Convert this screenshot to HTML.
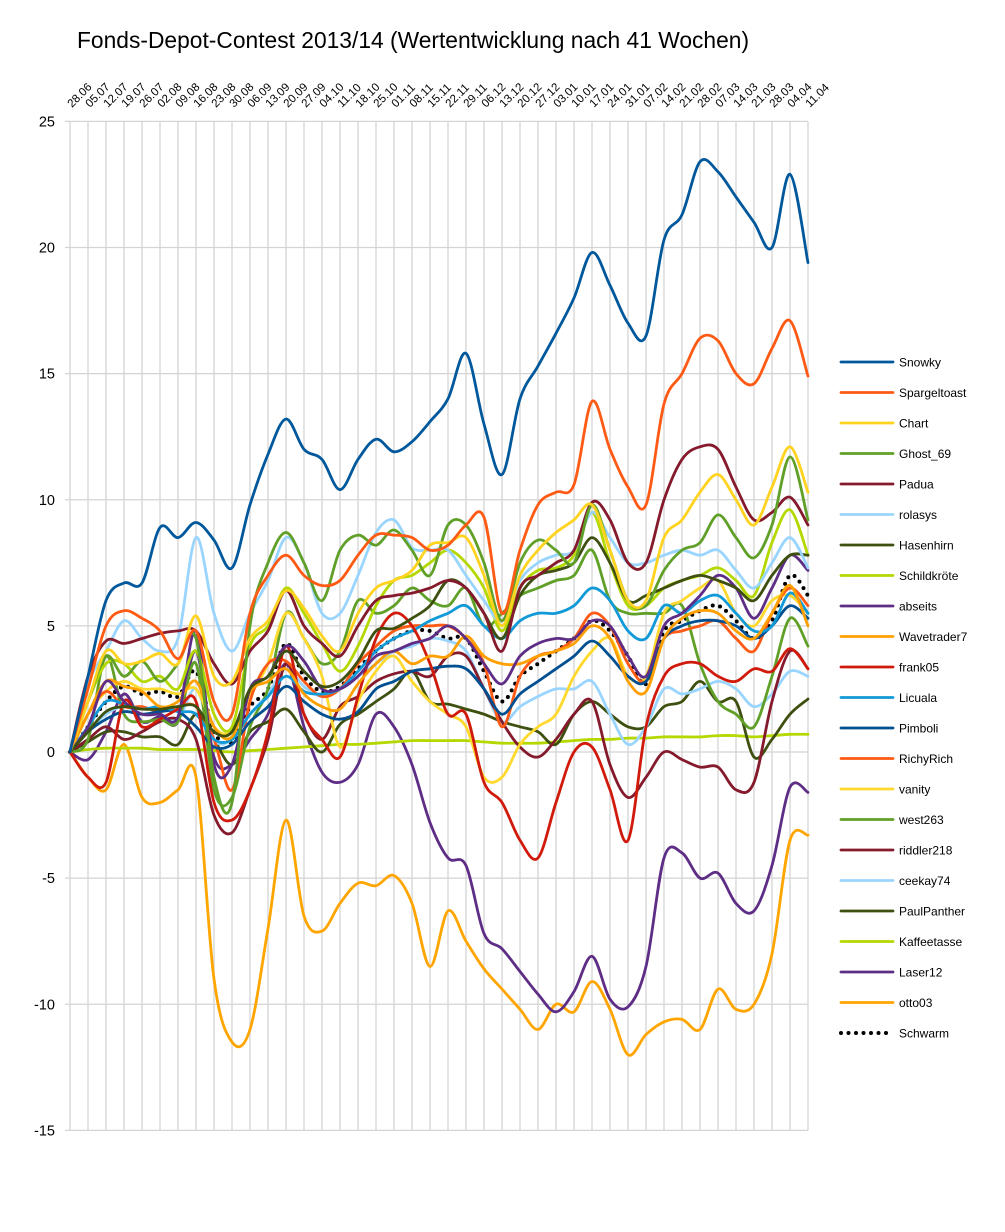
<!DOCTYPE html>
<html><head><meta charset="utf-8"><style>
body{margin:0;background:#fff;}
svg{display:block;font-family:"Liberation Sans",sans-serif;}
</style></head><body>
<svg id="chart" width="1005" height="1232" xmlns="http://www.w3.org/2000/svg">
<rect width="1005" height="1232" fill="#fff"/>
<text x="77" y="48" font-size="22.8" fill="#000">Fonds-Depot-Contest 2013/14 (Wertentwicklung nach 41 Wochen)</text>
<g id="grid"></g><g id="series"></g><g id="legend"></g>
</svg>
<script>
const categories=["28.06","05.07","12.07","19.07","26.07","02.08","09.08","16.08","23.08","30.08","06.09","13.09","20.09","27.09","04.10","11.10","18.10","25.10","01.11","08.11","15.11","22.11","29.11","06.12","13.12","20.12","27.12","03.01","10.01","17.01","24.01","31.01","07.02","14.02","21.02","28.02","07.03","14.03","21.03","28.03","04.04","11.04"];
const yTicks=[25,20,15,10,5,0,-5,-10,-15];
const seriesNames=["Snowky","Spargeltoast","Chart","Ghost_69","Padua","rolasys","Hasenhirn","Schildkröte","abseits","Wavetrader7","frank05","Licuala","Pimboli","RichyRich","vanity","west263","riddler218","ceekay74","PaulPanther","Kaffeetasse","Laser12","otto03","Schwarm"];
const seriesColors=["#00589c","#ff5a14","#ffd320","#60a028","#841a2c","#99d5ff","#3e5010","#b4d800","#5e2d86","#ffa000","#d01a0b","#1199d8","#004f90","#ff5a14","#ffd92e","#60a028","#841a2c","#99d5ff","#3e5010","#b4d800","#5e2d86","#ffa500","#000"];
const snowky=[0,3,6,6.7,6.7,8.9,8.5,9.1,8.4,7.3,9.8,11.8,13.2,12,11.6,10.4,11.6,12.4,11.9,12.3,13.1,14,15.8,13,11,14,15.3,16.6,18,19.8,18.5,17,16.5,20.3,21.3,23.4,23,22,21,20,22.9,19.4];
const spargeltoast=[0,2.5,5,5.6,5.3,4.8,3.7,4.8,2,1.5,5.5,7,7.8,7,6.6,6.8,7.8,8.6,8.6,8.5,8,8.2,9,9.3,5.5,8,9.8,10.3,10.6,13.9,12,10.5,9.8,13.8,15,16.4,16.3,15,14.6,16,17.1,14.9];
const chartS=[0,2,4,3.5,3.6,3.9,3.5,5.4,3,2.8,4.5,5.2,6.4,5.7,4.6,4,5.5,6.5,6.8,7.2,8.2,8.3,8.5,7,5,7,8,8.7,9.2,9.8,8,6,6,8.5,9.2,10.3,11,10,9,10.5,12.1,10.3];
const ghost69=[0,2,3.8,3,3.6,2.8,3.5,4.5,-1,-2,5,7.5,8.7,7.5,6,8,8.6,8.2,8.8,8,7,9,9,7.5,5.2,7.5,8.4,8,7.5,9.8,8,6,5.8,7.2,8,8.3,9.4,8.5,7.7,9,11.7,9.2];
const padua=[0,3,4.4,4.3,4.5,4.7,4.8,4.8,3.5,2.7,4,4.8,6.4,5,4.3,3.8,5,6,6.2,6.3,6.5,6.8,6.5,5.5,4,6.5,7,7.5,8,9.9,9.2,7.5,7.5,10,11.6,12.1,12,10.5,9.2,9.5,10.1,9];
const rolasys=[0,2.7,4,5.2,4.5,4,4.5,8.5,5.5,4,5.5,6.8,8.5,7.5,5.5,5.5,7,8.7,9.2,8.1,8,8,7,6,5.2,6.8,7.5,7.8,8,9.5,8.5,7.5,7.5,7.8,8,7.8,8,7.2,6.5,7.5,8.5,7.3];
const hasenhirn=[0,0.8,1.6,1.8,1.7,1.7,1.8,1.8,0.8,0.8,2.5,3,4,3.2,2.6,2.8,3.6,4.8,4.9,5.3,5.8,6.8,6.5,5.5,4.5,6.2,7,7.2,7.5,8.5,7.5,6,6.2,6.5,6.8,7,6.8,6.5,6,7,7.8,7.8];
const schildkroete=[0,2,3.5,3.5,2.8,3,2.5,4,1.5,1,4.2,5,6.5,5.5,4.3,3.2,4.2,5.8,6.8,7,7.5,8,7.5,6.5,4.8,6.5,7.2,7.3,7.8,9.5,7.5,5.8,5.8,6.5,6.8,7,7.3,6.8,6.2,8.3,9.6,7.8];
const abseits=[0,1,2.8,2,1.5,1.5,1.4,4.8,-0.5,-0.5,2.5,3,4.2,3.6,2.5,2.5,3,3.8,4,4.3,4.5,5,4.5,3.5,2.7,3.8,4.3,4.5,4.5,5.2,5,3.8,3,5,5.5,6.2,7,6.5,5.3,6.5,7.8,7.2];
const wavetrader7=[0,1.5,2.8,2.6,2.4,1.8,2,2.8,1,0.6,2.4,2.8,3.3,2.3,1.8,1.7,2.7,3.5,4,3.5,3.8,3.8,4.6,3.8,3.5,3.5,3.8,4,4.3,5,4.5,2.8,2.4,4.5,5.3,5.6,5.5,4.8,4.5,5.5,6.6,5];
const frank05=[0,-1,-1.2,2,1,1.3,1.7,2,-2,-2.7,-1.5,0.8,4.2,1.5,0.5,-0.2,2.2,4.5,5.5,5,3.5,1.5,1.5,-1.2,-2,-3.5,-4.2,-2,0,0.2,-1.5,-3.5,1,3,3.5,3.5,3,2.8,3.3,3.2,4.1,3.3];
const licuala=[0,1,2,1.9,1.7,1.8,1.6,1.5,0.5,0.5,1.5,2.2,3,2.4,2.3,2.5,3.2,4,4.5,4.8,5.2,5.5,5.8,5,4.5,5.2,5.5,5.5,5.8,6.5,6,4.8,4.5,5.8,5.5,6,6.2,5.5,4.8,5,6.3,5.5];
const pimboli=[0,0.8,1.3,1.6,1.5,1.6,1.6,1,0.2,0.3,1.2,1.8,2.6,2,1.5,1.3,1.6,2.5,2.8,3.2,3.3,3.4,3.3,2.5,1.5,2.3,2.8,3.3,3.8,4.4,3.8,3,2.8,4.5,5,5.2,5.2,5,4.5,5,5.8,5.3];
const richyrich=[0,1.5,2.4,1.8,1.8,1.6,1.8,1.8,0.5,-1.5,2,3.5,3.6,2.8,2.2,2.5,3.5,4.2,4.8,5,5,5,4.5,3.5,1,3,3.8,4,4.5,5.5,5,3.5,2.8,4.5,4.8,5,5.2,4.5,4,5.5,6.5,5.8];
const vanity=[0,1.5,2.4,2.8,2.5,2.5,2.3,2.5,1,0.8,2.2,3.5,5.5,4.5,3,0.2,2,3.2,3.8,2.8,2,1.5,1,-1,-1,0.3,1,1.5,3,4,4.5,3,3,5.5,6,6.5,6.8,5.5,5,6,6.2,5.5];
const west263=[0,0.5,3.8,1.5,1.2,1.3,1.2,3.5,-1.5,-1.8,1,2.5,5.5,4.5,3.5,4,6,5.5,5.8,6.5,6,5.8,6.5,5,5.5,6.2,6.5,6.8,7,8,6,5.5,5.5,5.5,5.8,3.5,2,1.5,1,3,5.3,4.2];
const riddler218=[0,0.5,1,0.5,0.8,1.2,1.3,0.5,-2.5,-3.2,-1.5,0.5,3.5,1.5,0.5,1.8,2.2,2.8,3.1,3.2,3,3.8,3.8,2.5,1.2,0.2,-0.2,0.5,1.5,2,-0.5,-1.8,-1,0,-0.3,-0.6,-0.6,-1.5,-1.2,2,4,3.3];
const ceekay74=[0,0.8,1.5,1.8,1.5,1.5,1.3,2.5,0.5,0.5,1.5,2.3,3.3,2.6,2.2,2.5,3,3.5,4,4.2,4.5,4.4,4,2.5,1.2,1.8,2.2,2.5,2.5,2.8,1.5,0.3,1,2.5,2.3,2.5,2.8,2.5,1.8,2.3,3.2,3];
const paulpanther=[0,0.4,0.8,0.8,0.6,0.6,0.3,1.5,0.5,-0.5,0.8,1.2,1.7,0.8,0,1.1,1.5,2,2.5,3.2,2,1.9,1.7,1.5,1.2,1,0.8,0.3,1.5,2,1.5,1,1,1.8,2,2.8,2,2,-0.2,0.5,1.5,2.1];
const kaffeetasse=[0,0.1,0.15,0.15,0.15,0.1,0.1,0.1,0.05,0,0.05,0.1,0.15,0.2,0.25,0.3,0.3,0.35,0.4,0.45,0.45,0.45,0.45,0.4,0.35,0.35,0.35,0.4,0.45,0.5,0.5,0.55,0.55,0.6,0.6,0.6,0.65,0.65,0.6,0.65,0.7,0.7];
const laser12=[0,-0.3,0.8,2.3,1.2,1.4,1.2,4,-0.2,-0.5,0.5,1.5,3.5,1,-0.8,-1.2,-0.5,1.5,1,-0.5,-2.8,-4.2,-4.5,-7.2,-7.8,-8.7,-9.6,-10.3,-9.5,-8.1,-9.8,-10.1,-8.5,-4.2,-4,-5,-4.8,-6,-6.3,-4.5,-1.4,-1.6];
const otto03=[0,-1,-1.5,0.3,-1.8,-2,-1.5,-1,-9,-11.5,-11,-7,-2.7,-6.5,-7.1,-6,-5.2,-5.3,-4.9,-6,-8.5,-6.3,-7.5,-8.6,-9.4,-10.2,-11,-10,-10.3,-9.1,-10.2,-12,-11.2,-10.7,-10.6,-11,-9.4,-10.2,-10,-8,-3.5,-3.3];
const schwarm=[0,1,2,2.6,2.3,2.4,2.2,3.2,0.8,0.4,1.8,2.5,4.3,3,2.4,2.6,3.3,4,4.5,4.8,4.8,4.5,4.5,3.2,2,3,3.5,4,4.5,5.2,4.8,3.8,2.7,4.8,5.2,5.6,5.8,5.2,4.5,5.2,7,6.2];
const seriesValues=[snowky,spargeltoast,chartS,ghost69,padua,rolasys,hasenhirn,schildkroete,abseits,wavetrader7,frank05,licuala,pimboli,richyrich,vanity,west263,riddler218,ceekay74,paulpanther,kaffeetasse,laser12,otto03,schwarm];

const NS="http://www.w3.org/2000/svg";
const X0=70,X1=808,Y0=752,YPER=25.225;
const xs=i=>X0+i*(X1-X0)/(categories.length-1);
const ys=v=>Y0-v*YPER;
function mk(t,a,p){const e=document.createElementNS(NS,t);for(const k in a)e.setAttribute(k,a[k]);p.appendChild(e);return e;}
const grid=document.getElementById('grid');
categories.forEach((c,i)=>{
  const l=mk('line',{x1:xs(i),x2:xs(i),y1:ys(25),y2:ys(-15),stroke:'#d4d4d4','stroke-width':1.3},grid);
  
  
  const t=mk('text',{x:xs(i)+2,y:108,'font-size':11.5,transform:`rotate(-45 ${xs(i)+2} 108)`},grid);
  t.textContent=c;
  
  
});
yTicks.forEach(v=>{
  const l=mk('line',{x1:65,x2:X1,y1:ys(v),y2:ys(v),stroke:'#d4d4d4','stroke-width':1.3},grid);
  
  
  const t=mk('text',{x:55,y:ys(v)+5,'font-size':14.5,'text-anchor':'end'},grid);
  t.textContent=v;
  
  
});
function pathD(vals){
  const p=vals.map((v,i)=>[xs(i),ys(v)]);
  let d=`M${p[0][0]},${p[0][1]}`;
  for(let i=0;i<p.length-1;i++){
    const a=p[Math.max(i-1,0)],b=p[i],c=p[i+1],e=p[Math.min(i+2,p.length-1)];
    const c1=[b[0]+(c[0]-a[0])/6,b[1]+(c[1]-a[1])/6],c2=[c[0]-(e[0]-b[0])/6,c[1]-(e[1]-b[1])/6];
    d+=`C${c1[0].toFixed(1)},${c1[1].toFixed(1)} ${c2[0].toFixed(1)},${c2[1].toFixed(1)} ${c[0].toFixed(1)},${c[1].toFixed(1)}`;
  }
  return d;
}
const sg=document.getElementById('series'),lg=document.getElementById('legend');
const order=[...seriesValues.keys()].reverse();
order.forEach(k=>{
  const last=k===seriesValues.length-1;
  const a={d:pathD(seriesValues[k]),fill:'none',stroke:seriesColors[k],'stroke-width':last?4:2.8,'stroke-linecap':'round'};
  if(last)a['stroke-dasharray']='0 7.5';
  const p=mk('path',a,sg);
  
  
});
seriesNames.forEach((n,k)=>{
  const y=362+k*30.5;
  const g=mk('g',{},lg);
  
  
  const last=k===seriesNames.length-1;
  const a={x1:841,x2:893,y1:y,y2:y,stroke:seriesColors[k],'stroke-width':last?4:2.8,'stroke-linecap':'round'};
  if(last)a['stroke-dasharray']='0 7.5';
  mk('line',a,g);
  const t=mk('text',{x:899,y:y+4.5,'font-size':12},g);
  t.textContent=n;
});
</script>
</body></html>
